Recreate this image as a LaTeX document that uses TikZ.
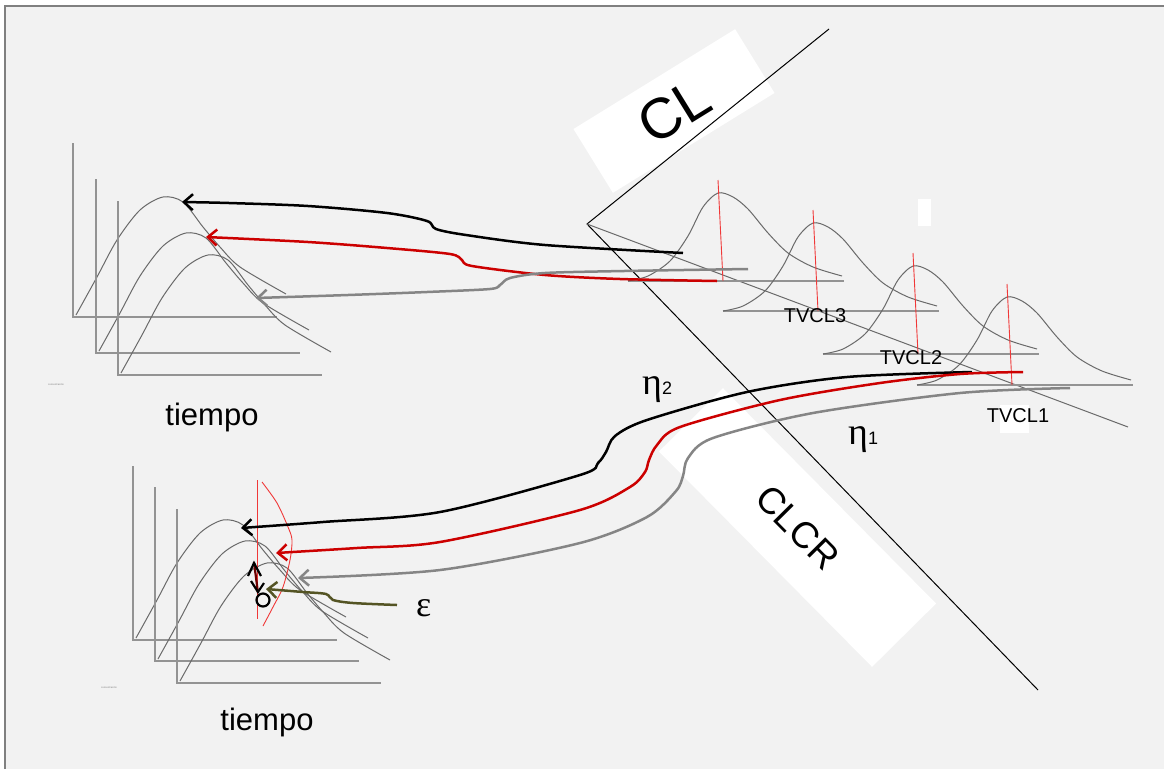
\documentclass[tikz,border=0pt]{standalone}
\usepackage{fontspec}
\setmainfont{Liberation Sans}
\newfontfamily\grk{Liberation Serif}
\usetikzlibrary{arrows.meta}
\definecolor{bg}{HTML}{F2F2F2}
\definecolor{axisgray}{HTML}{939393}
\definecolor{framegray}{HTML}{808080}
\definecolor{curvegray}{HTML}{6A6A6A}
\definecolor{arrred}{HTML}{CC0000}
\definecolor{arrgray}{HTML}{858585}
\definecolor{lred}{HTML}{F03838}
\definecolor{olivec}{HTML}{545424}
\definecolor{darkredc}{HTML}{6E0000}
\tikzset{
  axisline/.style={axisgray, line width=1.5pt},
  curveline/.style={curvegray, line width=1pt},
  baseline/.style={axisgray, line width=1.1pt},
  redmark/.style={lred, line width=0.9pt},
  conn/.style={line width=2.5pt, -{Straight Barb[length=9pt,width=16pt]}},
  whitebox/.style={fill=white, draw=none, inner sep=0pt},
  lbl/.style={inner sep=0pt, font=\fontsize{20}{20}\selectfont},
  pkplot/.pic={
    \draw[axisline] (0,-174) -- (0,0) -- (204,0);
    \draw[curveline] plot[smooth] coordinates {(3,-2) (24,-40) (44,-77) (67,-107) (90,-120) (110,-115) (130,-90) (147,-70) (167,-50) (213,-23)};
  },
  bellpic/.pic={
    \draw[baseline] (0,0) -- (216,0);
    \draw[curveline] plot[smooth] coordinates {(0,0) (20,-5) (42,-20) (60,-45) (75,-74) (90,-88) (105,-84) (120,-72) (140,-48) (160,-28) (185,-14) (214,-5)};
    \draw[redmark] (90,-101) -- (95,0);
  }
}
\begin{document}
\begin{tikzpicture}[x=1pt,y=-1pt]
\useasboundingbox (0,0) rectangle (1164,769);
% background frame
\fill[bg] (5,6) rectangle (1164,769);
\draw[framegray, line width=1.5pt] (5,769) -- (5,6) -- (1164,6);

% white label boxes
\node[whitebox, rotate=31.7, minimum width=190pt, minimum height=75pt,
      font=\fontsize{57}{57}\selectfont] (cl) at (674,111) {CL};
\node[whitebox, rotate=-45.3, minimum width=303pt, minimum height=90pt,
      font=\fontsize{37}{37}\selectfont] (clcr) at (797.5,527.5) {CLCR};
\node[whitebox, minimum width=13pt, minimum height=27pt] (w1) at (924.5,212.5) {};
\node[whitebox, minimum width=29pt, minimum height=28pt] (w2) at (1014.5,419) {};

% main V line and gray guide line
\coordinate (vtop) at (829,29);
\coordinate (vtx) at (587,224);
\coordinate (vbot) at (1038,690);
\coordinate (gend) at (1128,427);
\draw[black, line width=1pt] (vtop) -- (vtx) -- (vbot);
\draw[curvegray, line width=1pt] (vtx) -- (gend);

% right-hand distributions
\pic at (628,281) {bellpic};
\pic at (723,311) {bellpic};
\pic at (823,354) {bellpic};
\pic at (917,385) {bellpic};
\node[lbl] (tv3) at (815,316) {TVCL3};
\node[lbl] (tv2) at (911,358) {TVCL2};
\node[lbl] (tv1) at (1018,416) {TVCL1};

% top-left plots
\pic at (73,317) {pkplot};
\pic at (96,353) {pkplot};
\pic at (118,375) {pkplot};
\node[inner sep=0pt, text=gray, font=\fontsize{2.5}{3}\selectfont] (tiny1) at (56,385) {concentración};
\node[inner sep=0pt, font=\fontsize{31}{31}\selectfont] (t1) at (212,417) {tiempo};

% bottom-left plots
\pic at (133,640) {pkplot};
\pic at (155,661) {pkplot};
\pic at (177,683) {pkplot};
\node[inner sep=0pt, text=gray, font=\fontsize{2.5}{3}\selectfont] (tiny2) at (109,688) {concentración};
\node[inner sep=0pt, font=\fontsize{31}{31}\selectfont] (t2) at (267,722) {tiempo};

% red residual distribution
\coordinate (rl1) at (257,480);
\coordinate (rl2) at (257,619);
\draw[redmark] (rl1) -- (rl2);
\draw[redmark] plot[smooth] coordinates {(262,482) (277,503) (288,527) (292,540) (290,560) (283,587) (273,607) (263,626)};

% observation and residual arrow
\node[draw=black, line width=2.2pt, circle, minimum size=13pt, inner sep=0pt] (obs) at (263,600) {};
\coordinate (pr) at (254,562);
\coordinate (ob) at (258,593);
\draw[darkredc, line width=2.2pt] (ob) -- (pr);
\draw[black, line width=2.2pt] (248,576) -- (254,563) -- (261,576);
\draw[black, line width=2.2pt] (251,581) -- (258,592) -- (264,583);

% epsilon arrow
\coordinate (eS) at (397,605);
\coordinate (eE) at (266,589);
\draw[olivec, conn] plot[smooth] coordinates {(eS) (353,603) (333,600) (326,594) (303,592) (eE)};
\node[inner sep=0pt, anchor=base west, font=\fontsize{36}{36}\selectfont\grk] (eps) at (416,616) {ε};

% top arrows (from CL side to top-left plots)
\coordinate (tbS) at (683,253);
\coordinate (tbE) at (182,202);
\draw[black, conn] plot[smooth] coordinates {(tbS) (545,245) (466,235) (436,229) (427,221) (387,213) (308,206) (229,203) (tbE)};
\coordinate (trS) at (717,281);
\coordinate (trE) at (206,237);
\draw[arrred, conn] plot[smooth] coordinates {(trS) (620,279) (545,275) (472,266) (462,260) (450,254) (387,248) (308,242) (trE)};
\coordinate (tgS) at (748,269);
\coordinate (tgE) at (256,298);
\draw[arrgray, conn] plot[smooth] coordinates {(tgS) (624,271) (545,273) (510,278) (500,285) (490,289) (427,292) (348,295) (tgE)};

% bottom arrows (from TVCL side to bottom-left plots)
\coordinate (bbS) at (972,372);
\coordinate (bbE) at (241,528);
\draw[black, conn] plot[smooth] coordinates {(bbS) (847,377) (747,392) (647,420) (615,436) (606,452) (598,463) (580,475) (440,512) (323,522) (bbE)};
\coordinate (brS) at (1023,372);
\coordinate (brE) at (276,553);
\draw[arrred, conn] plot[smooth] coordinates {(brS) (960,374) (880,383) (780,400) (680,427) (657,445) (649,460) (645,472) (630,487) (580,510) (440,542) (357,548) (brE)};
\coordinate (bgS) at (1070,388);
\coordinate (bgE) at (298,578);
\draw[arrgray, conn] plot[smooth] coordinates {(bgS) (960,393) (813,413) (713,438) (688,458) (683,476) (676,491) (647,517) (580,543) (440,570) (bgE)};

% eta labels
\node[inner sep=0pt, anchor=base west] (eta2) at (642,394) {\fontsize{38}{38}\selectfont\grk η\fontsize{18}{18}\selectfont\rmfamily 2};
\node[inner sep=0pt, anchor=base west] (eta1) at (848,444) {\fontsize{38}{38}\selectfont\grk η\fontsize{18}{18}\selectfont\rmfamily 1};
\end{tikzpicture}
\end{document}
